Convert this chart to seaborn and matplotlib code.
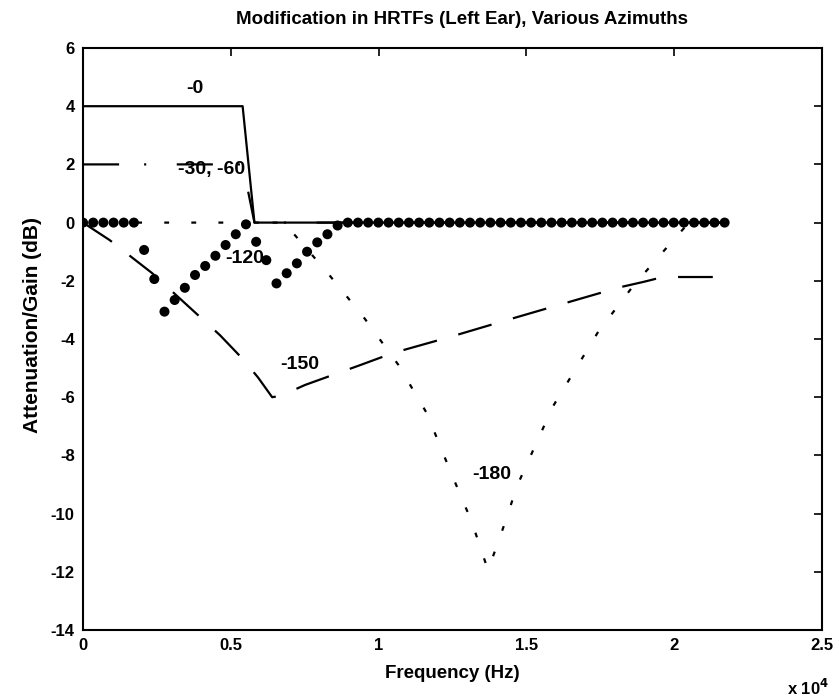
import numpy as np
import pandas as pd
import matplotlib
matplotlib.use("Agg")
import matplotlib.pyplot as plt
import seaborn as sns

# ---- data ----
az0_freq = [0, 5400, 5800, 21705]
az0_gain = [4, 4, 0, 0]

az30_freq = [0, 5400, 5800, 21705]
az30_gain = [2, 2, 0, 0]

# -120 : sampled on FFT bins (44.1 kHz / 128)
az120_bin_hz = 44100 / 128
az120_gain = [0, 0, 0, 0, 0, 0, -0.94, -1.94, -3.06, -2.66,
              -2.24, -1.80, -1.49, -1.14, -0.77, -0.40, -0.06, -0.66, -1.29, -2.09,
              -1.74, -1.40, -1.00, -0.68, -0.40, -0.10, 0, 0, 0, 0,
              0, 0, 0, 0, 0, 0, 0, 0, 0, 0,
              0, 0, 0, 0, 0, 0, 0, 0, 0, 0,
              0, 0, 0, 0, 0, 0, 0, 0, 0, 0,
              0, 0, 0, 0]

az150_freq = [0, 900, 2330, 4635, 5380, 5920, 6400, 6700, 7510, 8630, 9370,
              10490, 12415, 14340, 16200, 18170, 18950, 19620, 21705]
az150_gain = [0, -0.60, -1.73, -3.87, -4.66, -5.32, -6.00, -5.95, -5.58, -5.17, -4.90,
              -4.48, -3.93, -3.35, -2.80, -2.22, -2.04, -1.87, -1.87]

az180_freq = [0, 6800, 8250, 9480, 10670, 11630, 12410, 13150, 13700,
              14040, 14380, 14670, 15890, 17430, 18610, 19970, 20500, 21705]
az180_gain = [0, 0, -1.70, -3.23, -4.89, -6.55, -8.50, -10.28, -11.94,
              -11.0, -10.0, -9.08, -6.33, -3.75, -2.18, -0.60, 0, 0]

labels = ["-0", "-30, -60", "-120", "-150", "-180"]
label_x = [3790, 4365, 5480, 7340, 13830]
label_y = [4.6, 1.81, -1.22, -4.89, -8.67]

xticks = [0, 5000, 10000, 15000, 20000, 25000]
xtick_labels = ["0", "0.5", "1", "1.5", "2", "2.5"]
yticks = [6, 4, 2, 0, -2, -4, -6, -8, -10, -12, -14]

# ---- styling ----
sns.set_style("white")
plt.rcParams["font.family"] = ["Liberation Sans", "DejaVu Sans"]
plt.rcParams["font.weight"] = "bold"
plt.rcParams["text.color"] = "black"
plt.rcParams["lines.scale_dashes"] = False

fig = plt.figure(figsize=(8.39, 7.0), dpi=100)
ax = fig.add_axes([83 / 839, 1 - 630 / 700, 739 / 839, 582 / 700])

az120_freq = [i * az120_bin_hz for i in range(len(az120_gain))]

LW = 1.6
sns.lineplot(x=az0_freq, y=az0_gain, ax=ax, color="black", lw=LW,
             linestyle="-", sort=False, estimator=None)
sns.lineplot(x=az30_freq, y=az30_gain, ax=ax, color="black", lw=LW,
             linestyle=(0, (26, 18, 1.5, 22)), sort=False, estimator=None)
sns.lineplot(x=az150_freq, y=az150_gain, ax=ax, color="black", lw=LW,
             linestyle=(0, (25, 16)), sort=False, estimator=None)
sns.lineplot(x=az180_freq, y=az180_gain, ax=ax, color="black", lw=LW,
             linestyle=(0, (3.5, 16)), sort=False, estimator=None)
sns.scatterplot(x=az120_freq, y=az120_gain, ax=ax, color="black", s=52,
                edgecolor="none", zorder=5)

for t, lx, ly in zip(labels, label_x, label_y):
    ax.text(lx, ly, t, ha="center", va="center", fontsize=14,
            fontweight="bold", color="black", zorder=6)

ax.set_xlim(0, 25000)
ax.set_ylim(-14, 6)
ax.set_xticks(xticks)
ax.set_xticklabels(xtick_labels)
ax.set_yticks(yticks)
ax.set_yticklabels([str(v) for v in yticks])
ax.tick_params(direction="in", length=6, width=1.2, top=True, right=True,
               labelsize=12, pad=6, colors="black")
for lab in ax.get_xticklabels() + ax.get_yticklabels():
    lab.set_fontweight("bold")
    lab.set_color("black")
for sp in ax.spines.values():
    sp.set_visible(True)
    sp.set_color("black")
    sp.set_linewidth(1.5)
ax.set_xlabel("")
ax.set_ylabel("")

fig.text(462 / 839, 1 - 20 / 700, "Modification in HRTFs (Left Ear), Various Azimuths",
         ha="center", va="center", fontsize=13.5, fontweight="bold", color="black")
fig.text(452 / 839, 1 - 673 / 700, "Frequency (Hz)", ha="center", va="center",
         fontsize=13.5, fontweight="bold", color="black")
fig.text(33 / 839, 1 - 325 / 700, "Attenuation/Gain (dB)", ha="center", va="center",
         rotation=90, fontsize=15, fontweight="bold", color="black")
fig.text(808 / 839, 1 - 688 / 700, r"x 10$^{\mathbf{4}}$", ha="center", va="center",
         fontsize=12, fontweight="bold", color="black")

fig.savefig("out.png", dpi=100)
